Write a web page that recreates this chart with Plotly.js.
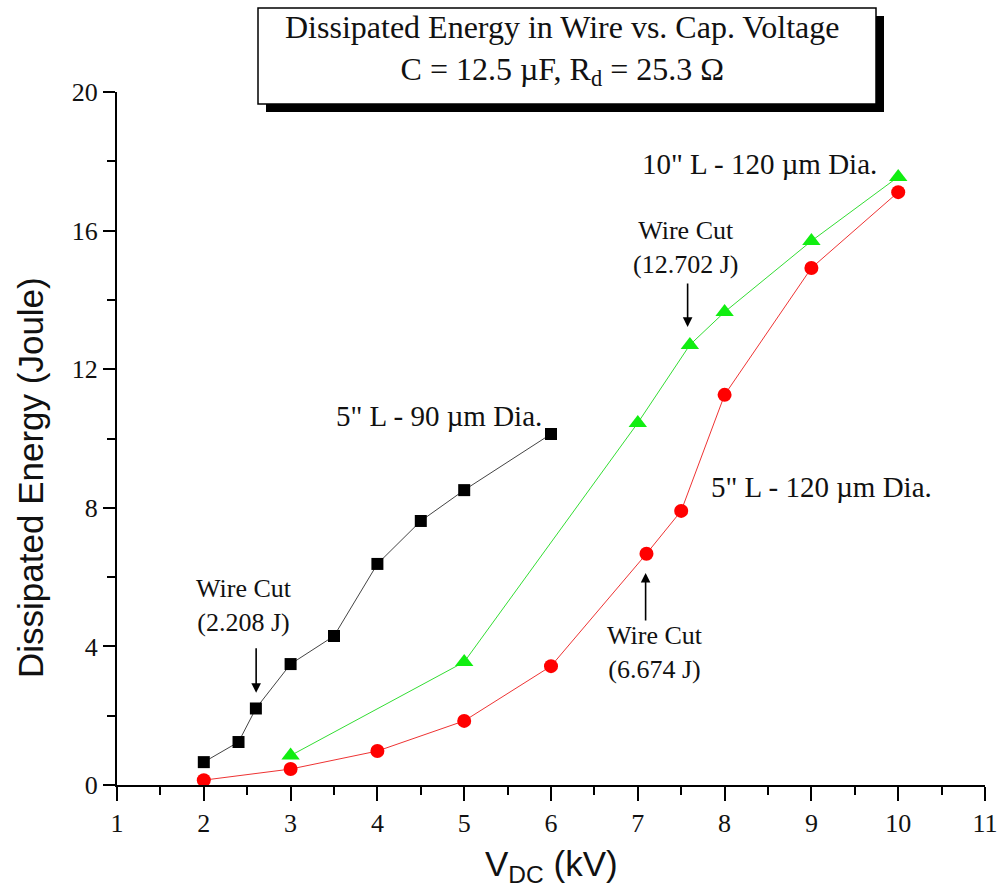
<!DOCTYPE html>
<html>
<head>
<meta charset="utf-8">
<script src="https://cdn.plot.ly/plotly-3.0.1.min.js"></script>
<style>html,body{margin:0;padding:0;background:#fff;}#chart{width:999px;height:893px;}</style>
</head>
<body>
<div id="chart"></div>
<script>
// ---- data ----
const wire90_x = [2, 2.4, 2.6, 3, 3.5, 4, 4.5, 5, 6];
const wire90_y = [0.66, 1.24, 2.208, 3.49, 4.30, 6.38, 7.62, 8.51, 10.13];

const wire10in_x = [3, 5, 7, 7.6, 8, 9, 10];
const wire10in_y = [0.85, 3.55, 10.45, 12.702, 13.65, 15.70, 17.55];

const wire5in_x = [2, 3, 4, 5, 6, 7.1, 7.5, 8, 9, 10];
const wire5in_y = [0.14, 0.46, 0.98, 1.85, 3.43, 6.674, 7.91, 11.26, 14.92, 17.11];

const xTicks = [1, 2, 3, 4, 5, 6, 7, 8, 9, 10, 11];
const yTicks = [0, 4, 8, 12, 16, 20];

const serif = 'Liberation Serif, Times New Roman, serif';
const sans = 'Liberation Sans, Arial, sans-serif';

// plot area in px: left 117, right 985, top 92, bottom 785
const L = 117, R = 985, T = 92, B = 785;
const px2paperX = p => (p - L) / (R - L);
const px2paperY = p => (B - p) / (B - T);

const traces = [
  {x: wire90_x, y: wire90_y, mode: 'lines+markers', type: 'scatter',
   line: {color: '#444', width: 1}, marker: {symbol: 'square', size: 12, color: '#000'}},
  {x: wire10in_x, y: wire10in_y, mode: 'lines+markers', type: 'scatter',
   line: {color: '#33dd33', width: 1}, marker: {symbol: 'triangle-up', size: 16, color: '#11ee11'}},
  {x: wire5in_x, y: wire5in_y, mode: 'lines+markers', type: 'scatter',
   line: {color: '#ee3333', width: 1}, marker: {symbol: 'circle', size: 14, color: '#ff0000'}}
];

function txt(text, x, y, size) {
  return {text: text, x: x, y: y, xref: 'x', yref: 'y', showarrow: false,
          xanchor: 'center', yanchor: 'middle',
          font: {family: serif, size: size || 26, color: '#111'}, align: 'center'};
}
function arrow(x, y, ay) {
  return {text: '', x: x, y: y, xref: 'x', yref: 'y', showarrow: true, ax: 0, ay: ay,
          arrowhead: 2, arrowsize: 1.2, arrowwidth: 1.6, arrowcolor: '#000'};
}

const annotations = [
  // chart title inside the box
  {text: 'Dissipated Energy in Wire vs. Cap. Voltage<br>C = 12.5 µF, R<sub>d</sub> = 25.3 Ω',
   xref: 'paper', yref: 'paper', x: px2paperX(562), y: px2paperY(50), xanchor: 'center', yanchor: 'middle',
   showarrow: false, font: {family: serif, size: 32, color: '#111'}, align: 'center'},
  // axis titles
  {text: 'V<sub>DC</sub> (kV)', xref: 'paper', yref: 'paper', x: px2paperX(551), y: px2paperY(866),
   xanchor: 'center', yanchor: 'middle',
   showarrow: false, font: {family: sans, size: 35, color: '#111'}},
  {text: 'Dissipated Energy (Joule)', xref: 'paper', yref: 'paper', x: px2paperX(31), y: px2paperY(478),
   xanchor: 'center', yanchor: 'middle',
   showarrow: false, textangle: -90, font: {family: sans, size: 35, color: '#111'}},
  // data labels
  txt('Wire Cut<br>(2.208 J)', 2.465, 5.17, 26),
  arrow(2.603, 2.66, -46),
  txt('5" L - 90 µm Dia.', 4.714, 10.65, 29),
  txt('Wire Cut<br>(12.702 J)', 7.551, 15.50, 26),
  arrow(7.574, 13.22, -45),
  txt('10" L - 120 µm Dia.', 8.405, 17.92, 29),
  txt('5" L - 120 µm Dia.', 9.12, 8.60, 29),
  txt('Wire Cut<br>(6.674 J)', 7.194, 3.81, 26),
  arrow(7.09, 6.12, 49)
];

const shapes = [
  // shadow of the title box
  {type: 'rect', xref: 'paper', yref: 'paper', x0: px2paperX(266), x1: px2paperX(884),
   y0: px2paperY(112), y1: px2paperY(16), fillcolor: '#000', line: {width: 0}},
  // title box
  {type: 'rect', xref: 'paper', yref: 'paper', x0: px2paperX(258), x1: px2paperX(876),
   y0: px2paperY(104), y1: px2paperY(8), fillcolor: '#fff', line: {color: '#000', width: 1.5}}
];

const layout = {
  width: 999, height: 893,
  margin: {l: L, r: 999 - R, t: T, b: 893 - B, pad: 0},
  paper_bgcolor: '#fff', plot_bgcolor: '#fff',
  showlegend: false,
  xaxis: {
    range: [1, 11], tickvals: xTicks, ticktext: xTicks.map(String),
    showgrid: false, zeroline: false, showline: true, linecolor: '#000', linewidth: 2,
    ticks: 'outside', ticklen: 14, tickwidth: 2, tickcolor: '#000',
    minor: {dtick: 0.5, tick0: 1, ticks: 'outside', ticklen: 8, tickwidth: 2, tickcolor: '#000', showgrid: false},
    tickfont: {family: serif, size: 26, color: '#111'}
  },
  yaxis: {
    range: [0, 20], tickvals: yTicks, ticktext: yTicks.map(String),
    showgrid: false, zeroline: false, showline: true, linecolor: '#000', linewidth: 2,
    ticks: 'outside', ticklen: 12, tickwidth: 2, tickcolor: '#000',
    minor: {dtick: 2, tick0: 0, ticks: 'outside', ticklen: 8, tickwidth: 2, tickcolor: '#000', showgrid: false},
    tickfont: {family: serif, size: 26, color: '#111'}
  },
  annotations: annotations,
  shapes: shapes
};

Plotly.newPlot('chart', traces, layout, {displayModeBar: false, staticPlot: true});
</script>
</body>
</html>
